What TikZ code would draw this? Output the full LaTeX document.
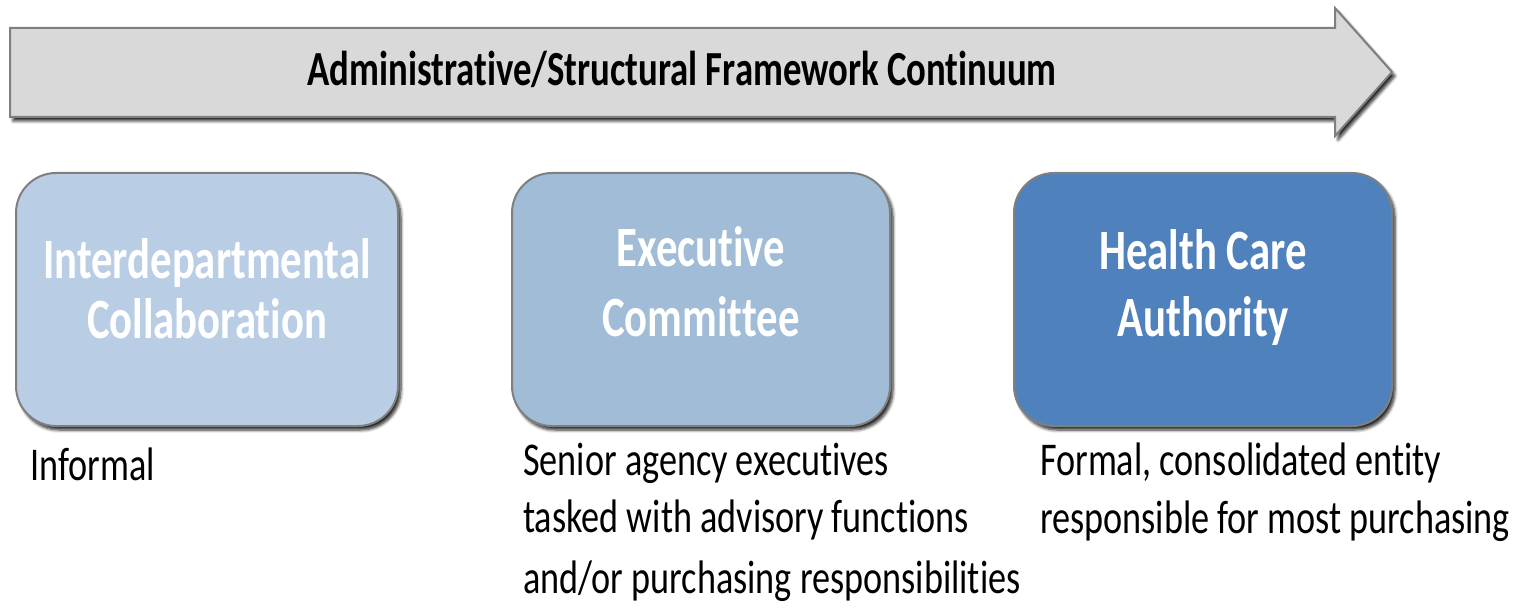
\documentclass[tikz,border=0pt]{standalone}
\usepackage{fontspec}
\setmainfont{Carlito}
\newfontfamily\cfont[FakeStretch=0.75, Ligatures=NoCommon]{Carlito}
\newfontfamily\nfont[FakeStretch=0.77, Ligatures=NoCommon]{Carlito}
\usetikzlibrary{shadows.blur}
\definecolor{arrowfill}{HTML}{D9D9D9}
\definecolor{edgegray}{HTML}{7F7F7F}
\definecolor{boxA}{HTML}{B9CDE5}
\definecolor{boxB}{HTML}{A0BCD6}
\definecolor{boxC}{HTML}{4F81BD}
\tikzset{
  shade3/.style={blur shadow={shadow xshift=3pt, shadow yshift=-4pt, shadow blur steps=6, shadow blur radius=3pt, shadow opacity=85}},
  stagebox/.style={draw=edgegray, line width=2pt, rounded corners=40pt, shade3},
  boxtitle/.style={text=white, inner sep=0pt, anchor=base, font=\cfont\bfseries\fontsize{57}{60}\selectfont},
  notetext/.style={text=black, inner sep=0pt, anchor=base west, font=\nfont\fontsize{47}{50}\selectfont},
  headtext/.style={text=black, inner sep=0pt, anchor=base, font=\cfont\bfseries\fontsize{49}{52}\selectfont},
}
\begin{document}
\begin{tikzpicture}[x=1pt, y=-1pt]
\useasboundingbox (0,0) rectangle (1518,612);
% continuum arrow
\draw[draw=edgegray, fill=arrowfill, line width=2pt, line join=miter, shade3]
  (10,28) -- (1335,28) -- (1335,8) -- (1392,72) -- (1335,136) -- (1335,117) -- (10,117) -- cycle;
\node[headtext] (head) at (682,86) {Administrative/Structural Framework Continuum};
% stage boxes
\path[stagebox, fill=boxA] (16,173) rectangle (398,426);
\path[stagebox, fill=boxB] (512,173) rectangle (890,426);
\path[stagebox, fill=boxC] (1014,173) rectangle (1392,426);
\node[boxtitle] (a1) at (207,279) {Interdepartmental};
\node[boxtitle] (a2) at (207,338) {Collaboration};
\node[boxtitle] (b1) at (701,267) {Executive};
\node[boxtitle] (b2) at (701,337) {Committee};
\node[boxtitle] (c1) at (1203,270) {Health Care};
\node[boxtitle] (c2) at (1203,337) {Authority};
% descriptions
\node[notetext] (n1) at (30,480) {Informal};
\node[notetext] (n2) at (523,475) {Senior agency executives};
\node[notetext] (n3) at (523,532) {tasked with advisory functions};
\node[notetext] (n4) at (523,593) {and/or purchasing responsibilities};
\node[notetext] (n5) at (1040,475) {Formal, consolidated entity};
\node[notetext] (n6) at (1040,533) {responsible for most purchasing};
\end{tikzpicture}
\end{document}
